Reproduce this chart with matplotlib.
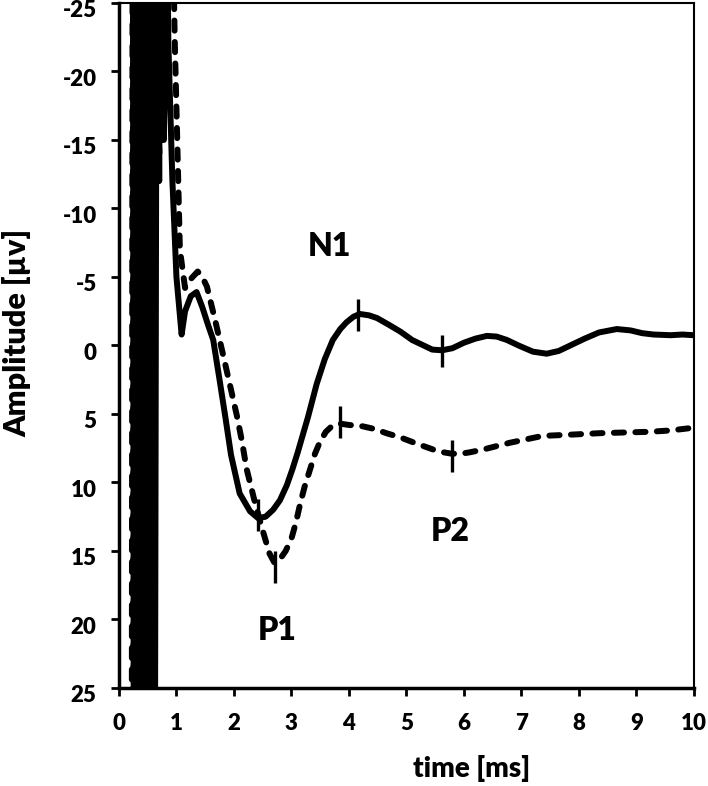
import matplotlib
matplotlib.use("Agg")
import matplotlib.pyplot as plt
import matplotlib.transforms as mtrans

plt.rcParams['font.family'] = ['Lato', 'DejaVu Sans']
plt.rcParams['font.weight'] = 'heavy'
plt.rcParams['axes.unicode_minus'] = False

# stimulus artifact (dense oscillation, clipped by the axis)
art_t_solid = [0.24, 0.26, 0.28, 0.30, 0.32, 0.34, 0.36, 0.38, 0.40, 0.42,
               0.44, 0.46, 0.48, 0.50, 0.52, 0.54, 0.56, 0.58, 0.60, 0.62]
art_v_solid = [-45, 45, -45, 45, -45, 45, -45, 45, -45, 45,
               -45, 45, -45, 45, -45, 45, -45, 45, -45, 45]
art_t_dash = [0.22, 0.24, 0.26, 0.28, 0.30, 0.32, 0.34, 0.36, 0.38, 0.40,
              0.42, 0.44, 0.46, 0.48, 0.50, 0.52, 0.54, 0.56, 0.58, 0.60]
art_v_dash = [45, -45, 45, -45, 45, -45, 45, -45, 45, -45,
              45, -45, 45, -45, 45, -45, 45, -45, 45, -45]

# response after the artifact
t_solid = [0.66, 0.70, 0.74, 0.78, 0.84, 0.86, 0.93, 1.00, 1.09, 1.15, 1.25,
           1.35, 1.45, 1.55, 1.64, 1.75, 1.85, 1.95, 2.10, 2.28, 2.42, 2.55,
           2.68, 2.80, 2.92, 3.02, 3.11, 3.20, 3.29, 3.44, 3.58, 3.72, 3.85,
           3.96, 4.08, 4.19, 4.35, 4.49, 4.70, 4.90, 5.10, 5.30, 5.45, 5.62,
           5.80, 6.00, 6.20, 6.40, 6.57, 6.75, 6.95, 7.20, 7.44, 7.65, 7.85,
           8.10, 8.35, 8.66, 8.90, 9.10, 9.30, 9.60, 9.80, 10.0]
v_solid = [-40, -12, -40, -15, -30, -22, -12, -5, -0.8, -2.5, -3.6,
           -3.9, -2.8, -1.5, -0.4, 2.5, 5.2, 8.0, 10.8, 12.1, 12.6, 12.5,
           12.0, 11.3, 10.2, 9.0, 7.8, 6.5, 5.2, 2.8, 1.0, -0.4, -1.2,
           -1.7, -2.1, -2.3, -2.2, -2.0, -1.5, -1.0, -0.4, 0.0, 0.3, 0.35,
           0.2, -0.2, -0.5, -0.7, -0.65, -0.4, 0.0, 0.45, 0.6, 0.4, 0.0,
           -0.5, -0.95, -1.2, -1.1, -0.9, -0.8, -0.75, -0.8, -0.75]

t_dash = [0.64, 0.70, 0.76, 0.82, 0.90, 0.97, 1.02, 1.06, 1.15, 1.26, 1.37,
          1.45, 1.53, 1.67, 1.84, 2.05, 2.14, 2.22, 2.35, 2.50, 2.62, 2.71,
          2.80, 2.90, 3.00, 3.08, 3.15, 3.23, 3.32, 3.41, 3.50, 3.60, 3.70,
          3.84, 4.00, 4.24, 4.45, 4.65, 4.89, 5.20, 5.47, 5.65, 5.79, 5.95,
          6.10, 6.33, 6.80, 7.37, 7.90, 8.37, 8.80, 9.23, 9.60, 10.0]
v_dash = [-40, -14, -40, -18, -40, -22.4, -14, -7, -4.2, -4.9, -5.4,
          -5.0, -4.3, -1.9, 1.2, 5.1, 7.0, 9.0, 11.2, 13.5, 15.2, 15.9,
          15.6, 15.0, 14.1, 12.9, 11.6, 10.3, 9.1, 7.9, 7.0, 6.3, 5.9,
          5.7, 5.8, 5.9, 6.1, 6.4, 6.7, 7.2, 7.6, 7.8, 7.9, 7.9,
          7.8, 7.6, 7.1, 6.6, 6.5, 6.4, 6.35, 6.3, 6.2, 6.0]

# peak marks (P1, N1, P2)
mark_t_solid = [2.42, 4.16, 5.62]
mark_v_solid = [12.4, -2.2, 0.4]
mark_t_dash = [2.71, 3.84, 5.79]
mark_v_dash = [16.2, 5.6, 8.1]

labels = ['N1', 'P1', 'P2']
label_t = [3.67, 2.75, 5.76]
label_v = [-7.2, 20.8, 13.6]

fig = plt.figure(figsize=(7.08, 7.86), dpi=100)
ax = fig.add_axes([0.168, 0.1247, 0.812, 0.8715])

ax.plot(art_t_solid + t_solid, art_v_solid + v_solid, color='black', lw=4.3,
        solid_joinstyle='round', solid_capstyle='round')
ax.plot(art_t_dash + t_dash, art_v_dash + v_dash, color='black', lw=4.3,
        dashes=(1.7, 1.9), dash_capstyle='round', dash_joinstyle='round')
ax.plot(mark_t_solid, mark_v_solid, ls='none', marker='|', ms=23, mew=2.4,
        color='black')
ax.plot(mark_t_dash, mark_v_dash, ls='none', marker='|', ms=23, mew=2.4,
        color='black')

for lab, tx, vy in zip(labels, label_t, label_v):
    ax.text(tx, vy, lab, fontsize=23, fontweight='heavy', ha='center',
            va='center')

ax.set_xlim(0, 10)
ax.set_ylim(25, -25)
ax.set_xticks(range(0, 11))
ax.set_yticks(range(-25, 30, 5))
ax.tick_params(direction='out', length=6, width=2, labelsize=16)
ax.tick_params(axis='x', pad=12)
ax.tick_params(axis='y', pad=10)
for sp in ax.spines.values():
    sp.set_linewidth(1.5)
ax.spines['left'].set_linewidth(2.5)
ax.spines['bottom'].set_linewidth(2.5)

# y tick labels sit a little below their ticks in the reference
shift = mtrans.ScaledTranslation(0, -0.06, fig.dpi_scale_trans)
for lbl in ax.get_yticklabels():
    lbl.set_transform(lbl.get_transform() + shift)

ax.set_xlabel('time [ms]', fontsize=20, fontweight='heavy')
ax.xaxis.set_label_coords(0.614, -0.098)
ax.set_ylabel('Amplitude [µv]', fontsize=22, fontweight='heavy')
ax.yaxis.set_label_coords(-0.153, 0.519)

fig.savefig('out.png', dpi=100)
